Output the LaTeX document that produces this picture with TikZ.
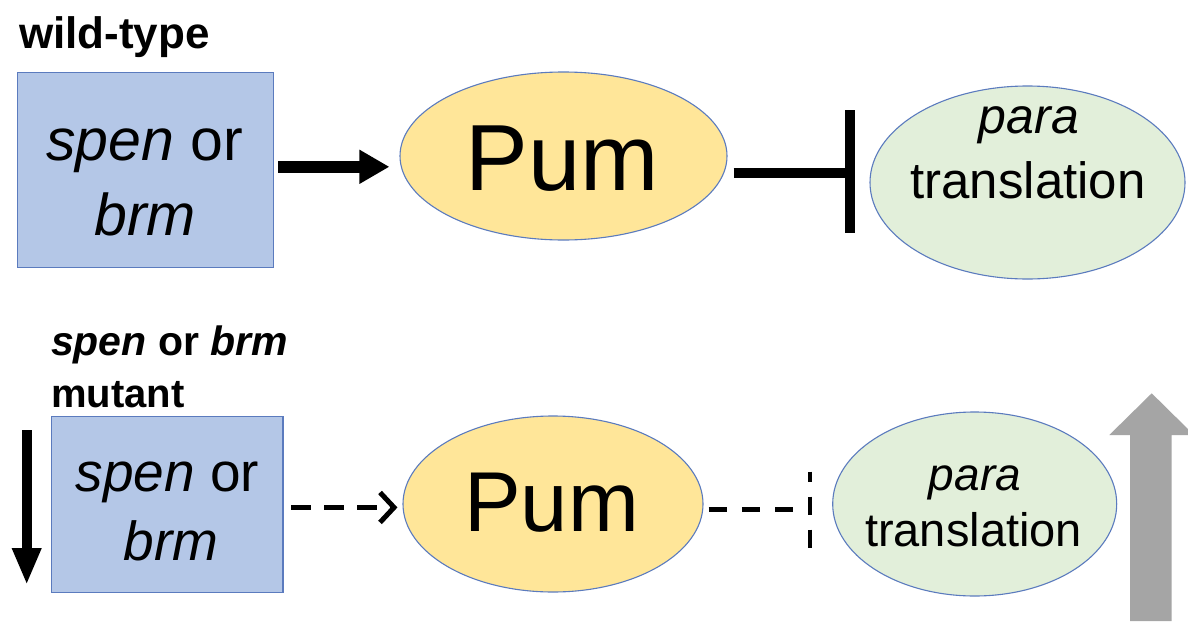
\documentclass[tikz,border=0pt]{standalone}
\usepackage{fontspec}
\setmainfont{Liberation Sans}
\usetikzlibrary{arrows.meta,shapes.geometric}
\definecolor{boxfill}{HTML}{B4C7E7}
\definecolor{edgeblue}{HTML}{5B7BBE}
\definecolor{pumfill}{HTML}{FFE699}
\definecolor{parafill}{HTML}{E2EFDA}
\definecolor{greyarrow}{HTML}{A5A5A5}
\newcommand{\fsz}[1]{\fontsize{#1}{#1}\selectfont}
\begin{document}
\begin{tikzpicture}[x=1pt,y=-1pt,
  genebox/.style={draw=edgeblue,line width=1.2pt,fill=boxfill,inner sep=0,anchor=north west},
  oval/.style={ellipse,draw=edgeblue,line width=1.1pt,inner sep=0},
  txt/.style={anchor=base,inner sep=0,outer sep=0},
  solidarrow/.style={line width=12pt,-{Triangle[length=30pt,width=32pt]}},
  inhib/.style={line width=10pt},
  dasharrow/.style={line width=5pt,dash pattern=on 20pt off 13pt,-{Straight Barb[length=14pt,width=30pt]}},
  dashinhib/.style={line width=5pt,dash pattern=on 18.3pt off 15pt}]
\useasboundingbox (0,0) rectangle (1188,621);
\fill[white] (0,0) rectangle (1188,621);

% ---- wild-type row ----
\node[txt,anchor=base west] (wtlabel) at (19,48.3) {\fsz{44}\bfseries wild-type};
\node[genebox,minimum width=256pt,minimum height=195pt] (box1) at (16.7,71.7) {};
\node[txt] (box1a) at (144.5,160) {\fsz{59}\textit{spen} or};
\node[txt] (box1b) at (145,235) {\fsz{59}\textit{brm}};

\node[oval,fill=pumfill,minimum width=327pt,minimum height=168pt] (pum1) at (563.5,156) {};
\node[txt] (pum1t) at (562,190) {\fsz{94}Pum};

\node[oval,fill=parafill,minimum width=315pt,minimum height=193pt] (para1) at (1027.5,182.5) {};
\node[txt] (para1a) at (1029,133) {\fsz{50}\textit{para}};
\node[txt] (para1b) at (1028,198) {\fsz{51}translation};

\draw[solidarrow,shorten <=4.5pt,shorten >=10pt] ([yshift=3pt]box1.east) -- ([yshift=3pt]box1.east -| pum1.west);
\coordinate (bar1) at (850,173);
\draw[inhib,shorten <=6pt] (pum1.east |- bar1) -- (bar1);
\draw[inhib] ([yshift=63pt]bar1) -- ([yshift=-60pt]bar1);

% ---- mutant row ----
\node[txt,anchor=base west] (mutlabela) at (51,355) {\fsz{41}\bfseries\textit{spen} or \textit{brm}};
\node[txt,anchor=base west] (mutlabelb) at (51,407) {\fsz{40}\bfseries mutant};
\node[genebox,minimum width=231.6pt,minimum height=175.7pt] (box2) at (50.7,416) {};
\node[txt] (box2a) at (167.5,491.7) {\fsz{55}\textit{spen} or};
\node[txt] (box2b) at (171,560) {\fsz{55}\textit{brm}};

\node[oval,fill=pumfill,minimum width=300pt,minimum height=176pt] (pum2) at (553,504) {};
\node[txt] (pum2t) at (551.5,531.7) {\fsz{85}Pum};

\node[oval,fill=parafill,minimum width=284pt,minimum height=184pt] (para2) at (974.7,504) {};
\node[txt] (para2a) at (975,490) {\fsz{46}\textit{para}};
\node[txt] (para2b) at (973.5,546.7) {\fsz{47}translation};

\draw[dasharrow,shorten <=7.7pt,shorten >=5pt] ([yshift=-3pt]box2.east) -- ([yshift=-3pt]box2.east -| pum2.west);
\coordinate (bar2) at (810,509);
\draw[dashinhib,shorten <=5pt,shorten >=16.7pt] (pum2.east |- bar2) -- (bar2);
\draw[line width=4.5pt,dash pattern=on 10pt off 15pt on 18pt off 15pt on 18pt] ([yshift=37.3pt]bar2) -- ([yshift=-39pt]bar2);

% down arrow (reduced expression)
\coordinate (dntop) at (26.7,430);
\coordinate (dnbot) at (26.7,585);
\draw[line width=10pt,-{Triangle[length=37pt,width=27pt]}] (dntop) -- (dnbot);

% grey up arrow (increased translation)
\fill[greyarrow] (1130,621) -- (1130,435) -- (1109.3,435) -- (1151.7,393.3) -- (1194,435) -- (1171.5,435) -- (1171.5,621) -- cycle;
\end{tikzpicture}
\end{document}
